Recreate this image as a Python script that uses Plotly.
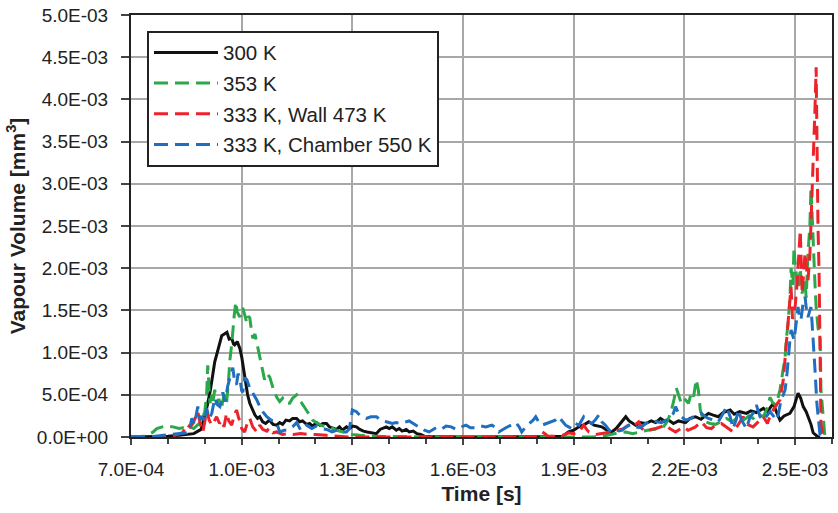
import plotly.graph_objects as go

# time in microseconds, vapour volume in units of 1e-4 mm^3
s300 = [(700,0),(760,0.05),(800,0.1),(830,0.2),(850,0.3),(870,0.4),(890,0.9),(905,3.4),(915,5.5),(927,8.9),
        (935,10.2),(946,12.0),(953,12.2),(960,12.4),(966,11.6),(973,11.7),(978,11.0),(981,10.9),(988,11.3),
        (995,10.5),(1000,9.5),(1005,8.2),(1010,6.8),(1016,5.0),(1022,4.0),(1030,3.2),(1036,2.6),(1043,2.2),
        (1049,2.4),(1057,1.8),(1065,1.6),(1075,2.0),(1085,1.5),(1095,1.4),(1103,1.7),(1111,1.5),(1120,2.0),
        (1130,1.9),(1138,2.2),(1149,2.2),(1157,1.8),(1165,1.9),(1176,1.5),(1184,1.6),(1192,1.3),(1203,1.7),
        (1212,1.4),(1220,1.6),(1230,1.6),(1238,1.2),(1248,1.0),(1257,0.9),(1265,1.2),(1273,0.8),(1284,1.2),
        (1292,1.0),(1300,1.3),(1311,1.2),(1320,0.9),(1330,0.7),(1340,0.6),(1354,0.5),(1365,0.4),(1375,0.9),
        (1392,1.2),(1400,1.0),(1408,1.2),(1419,0.8),(1427,1.0),(1435,0.7),(1446,0.9),(1454,0.6),(1465,0.7),
        (1475,0.4),(1485,0.3),(1495,0.1),(1510,0.05),(1600,0.0),(1700,0.0),(1820,0.0),(1850,0.05),(1870,0.1),
        (1886,0.6),(1900,0.8),(1914,1.2),(1930,1.5),(1941,1.8),(1955,1.4),(1976,1.2),(1990,0.8),(2003,0.6),
        (2015,1.0),(2030,1.8),(2041,2.4),(2050,1.9),(2068,1.4),(2080,1.7),(2095,1.6),(2110,1.9),(2122,1.7),
        (2135,2.2),(2149,1.8),(2157,2.0),(2170,1.6),(2184,1.9),(2203,1.7),(2215,2.2),(2230,2.4),(2245,2.1),
        (2265,2.8),(2278,2.6),(2292,2.4),(2305,2.9),(2324,3.2),(2335,2.7),(2350,3.0),(2368,2.8),(2380,3.1),
        (2395,2.9),(2414,3.4),(2425,3.0),(2441,4.0),(2449,3.0),(2459,2.0),(2470,2.5),(2486,2.8),(2497,3.6),
        (2508,5.2),(2515,4.6),(2522,3.6),(2530,3.0),(2535,2.4),(2543,1.5),(2549,0.5),(2557,0.2),(2562,0.0),(2568,0.0)]

s353 = [(700,0),(740,0.1),(760,0.6),(770,1.0),(785,1.2),(800,1.3),(814,1.2),(830,1.0),(841,1.1),(851,0.9),
        (860,1.2),(870,1.0),(880,1.4),(890,1.8),(900,3.0),(905,5.0),(908,8.5),(912,6.0),(914,4.0),(919,5.0),
        (922,4.2),(927,5.6),(932,3.8),(938,4.5),(946,3.6),(952,5.0),(959,4.0),(964,6.5),(968,9.1),(973,11.0),
        (976,12.7),(980,14.5),(984,16.0),(988,14.8),(995,14.2),(1000,15.0),(1003,15.3),(1008,14.5),(1014,13.5),
        (1018,14.3),(1022,14.1),(1026,12.8),(1030,11.7),(1036,12.2),(1041,11.1),(1047,10.0),(1054,8.3),
        (1058,7.5),(1062,6.8),(1068,7.5),(1076,7.1),(1085,5.8),(1095,4.7),(1103,4.2),(1111,4.6),(1120,4.0),
        (1130,4.0),(1138,4.6),(1149,5.0),(1157,4.4),(1165,3.8),(1175,3.2),(1184,2.6),(1192,2.0),(1203,1.7),
        (1215,1.4),(1230,1.2),(1238,1.2),(1257,0.8),(1273,0.6),(1284,0.5),(1300,0.3),(1320,0.2),(1350,0.1),
        (1400,0.05),(1500,0.0),(1700,0.0),(1950,0.0),(1980,0.1),(2000,0.3),(2022,0.5),(2041,0.6),(2060,0.4),
        (2080,0.6),(2100,0.8),(2120,0.9),(2130,1.2),(2140,1.0),(2150,1.6),(2157,2.2),(2165,3.2),(2172,4.5),
        (2178,5.8),(2184,5.0),(2190,4.2),(2197,4.7),(2203,4.4),(2211,4.0),(2219,5.3),(2225,4.8),(2232,6.8),
        (2238,5.5),(2243,3.2),(2250,2.2),(2257,1.8),(2270,1.6),(2284,1.5),(2300,1.8),(2314,2.2),(2330,1.8),
        (2346,2.4),(2360,2.0),(2375,2.5),(2386,2.2),(2400,2.7),(2414,2.4),(2425,3.5),(2432,4.7),(2440,4.0),
        (2449,3.8),(2459,5.6),(2468,8.3),(2473,9.5),(2476,11.5),(2481,13.5),(2486,16.5),(2489,20.0),(2494,18.0),
        (2497,22.5),(2500,20.5),(2503,19.0),(2508,17.5),(2514,20.0),(2519,17.0),(2527,18.6),(2530,16.5),
        (2535,21.8),(2540,25.0),(2543,29.6),(2546,26.0),(2549,23.3),(2554,18.0),(2557,15.4),(2562,13.0),
        (2568,11.5),(2570,5.6),(2576,2.5),(2581,0.0)]

s333_wall = [(700,0),(780,0.05),(820,0.2),(840,0.5),(851,1.5),(860,1.2),(868,1.6),(875,2.5),(881,3.0),(888,1.5),
        (895,0.6),(900,1.8),(905,3.2),(912,2.0),(919,1.4),(925,1.8),(932,2.4),(940,1.6),(946,2.0),(952,1.2),
        (959,2.8),(965,1.9),(973,1.4),(980,2.6),(986,3.2),(992,2.2),(995,2.0),(1000,1.0),(1008,0.6),(1015,1.6),
        (1022,2.2),(1030,1.2),(1041,0.6),(1049,1.4),(1057,0.9),(1068,0.7),(1076,1.1),(1085,0.5),(1095,0.6),
        (1110,0.3),(1125,0.4),(1140,0.3),(1160,0.4),(1180,0.3),(1200,0.3),(1230,0.2),(1260,0.1),(1290,0.0),
        (1500,0.0),(1800,0.0),(1808,0.3),(1814,0.6),(1822,0.4),(1830,0.1),(1850,0.1),(1870,0.2),(1886,0.5),
        (1900,0.4),(1914,0.6),(1927,1.4),(1935,0.9),(1941,0.6),(1960,0.3),(1976,0.4),(1990,0.5),(2003,0.6),
        (2020,0.8),(2035,1.0),(2049,1.4),(2060,1.2),(2076,1.8),(2085,1.0),(2095,0.6),(2110,0.9),(2122,1.0),
        (2135,1.2),(2149,1.4),(2160,1.0),(2176,0.6),(2190,1.0),(2197,1.2),(2210,0.8),(2230,1.2),(2246,1.8),
        (2260,1.1),(2273,1.0),(2284,1.4),(2300,1.6),(2314,1.2),(2332,0.6),(2345,1.4),(2359,2.4),(2370,1.5),
        (2386,1.2),(2400,1.8),(2414,2.4),(2425,1.6),(2435,2.8),(2449,3.8),(2459,4.4),(2468,6.8),(2476,10.7),
        (2481,13.5),(2486,16.5),(2489,17.8),(2493,14.0),(2500,15.4),(2505,18.0),(2510,21.0),(2514,24.5),
        (2519,17.0),(2524,19.5),(2527,21.8),(2531,20.0),(2535,18.6),(2540,21.5),(2543,24.9),(2546,28.0),
        (2549,31.3),(2552,36.0),(2554,39.1),(2557,43.8),(2559,31.3),(2562,25.0),(2565,19.4),(2568,7.6),
        (2570,1.7),(2576,0.0)]

s333_chamber = [(700,0),(760,0.05),(805,0.3),(830,0.4),(851,0.5),(860,1.2),(865,2.2),(872,1.5),(881,3.6),(888,2.0),
        (892,2.5),(900,1.8),(905,3.4),(912,2.2),(919,2.8),(927,4.6),(935,3.8),(941,3.6),(949,5.3),(955,4.2),
        (962,6.0),(968,7.0),(976,8.2),(981,6.5),(986,6.2),(990,7.5),(995,7.0),(1000,5.5),(1003,5.3),(1008,7.0),
        (1014,6.8),(1022,5.8),(1030,5.2),(1035,5.0),(1041,4.4),(1049,3.6),(1057,3.0),(1068,2.4),(1080,2.0),
        (1095,1.7),(1103,0.6),(1115,0.8),(1122,0.8),(1138,1.2),(1149,1.7),(1160,0.8),(1176,1.4),(1190,1.0),
        (1203,1.3),(1215,1.0),(1230,0.9),(1245,0.6),(1257,0.8),(1273,0.6),(1284,0.6),(1292,1.0),(1300,3.2),
        (1311,3.0),(1322,2.5),(1338,2.2),(1350,2.4),(1365,2.4),(1380,1.9),(1392,1.8),(1408,1.6),(1419,1.7),
        (1430,1.6),(1446,1.8),(1454,1.9),(1465,1.6),(1481,1.2),(1495,0.8),(1508,0.6),(1520,0.9),(1527,1.1),
        (1540,0.9),(1554,1.3),(1568,1.2),(1581,0.9),(1595,1.2),(1608,1.4),(1620,1.1),(1635,1.1),(1648,1.3),
        (1662,1.2),(1678,1.4),(1690,1.1),(1697,0.6),(1710,1.0),(1716,1.1),(1730,1.4),(1743,1.7),(1752,1.2),
        (1759,0.6),(1770,1.2),(1778,1.5),(1790,2.0),(1797,2.4),(1805,1.8),(1814,1.4),(1828,1.6),(1841,1.8),
        (1850,2.0),(1859,2.4),(1868,1.9),(1878,1.4),(1886,1.2),(1894,1.0),(1905,1.6),(1914,1.4),(1927,2.4),
        (1937,1.9),(1949,1.6),(1958,2.0),(1968,2.6),(1976,1.8),(1986,1.4),(1996,0.8),(2003,0.6),(2015,0.7),
        (2030,0.8),(2045,1.3),(2057,1.5),(2068,1.2),(2081,1.1),(2095,1.6),(2111,2.0),(2125,1.8),(2138,1.7),
        (2150,2.0),(2157,2.1),(2170,2.8),(2176,3.6),(2184,2.8),(2192,2.4),(2203,2.0),(2219,2.2),(2230,2.6),
        (2246,2.8),(2257,2.4),(2265,2.2),(2280,2.0),(2292,1.8),(2305,2.8),(2314,3.6),(2324,2.4),(2332,1.0),
        (2340,2.0),(2346,3.2),(2355,2.0),(2368,1.0),(2378,2.4),(2386,2.8),(2395,3.8),(2405,2.4),(2414,2.0),
        (2425,2.6),(2432,3.0),(2441,2.5),(2449,2.0),(2455,2.8),(2462,4.4),(2468,5.0),(2473,5.6),(2478,7.5),
        (2481,9.5),(2486,11.5),(2489,12.7),(2494,11.8),(2497,11.5),(2503,13.5),(2508,15.4),(2512,14.0),
        (2516,13.9),(2522,16.0),(2527,16.6),(2531,15.0),(2535,14.2),(2540,15.0),(2543,15.4),(2546,13.5),
        (2549,11.8),(2554,7.9),(2559,4.0),(2562,2.8),(2566,1.0),(2568,0.0)]

series_names = ["300 K", "353 K", "333 K, Wall 473 K", "333 K, Chamber 550 K"]
series_colors = ["#111111", "#2BA84A", "#EE2229", "#1F6EBF"]
series_dash = ["solid", "14px,7px", "14px,7px", "14px,7px"]
series_data = [s300, s353, s333_wall, s333_chamber]

x_tickvals = [7.0e-4, 1.0e-3, 1.3e-3, 1.6e-3, 1.9e-3, 2.2e-3, 2.5e-3]
x_ticktext = ["7.0E-04", "1.0E-03", "1.3E-03", "1.6E-03", "1.9E-03", "2.2E-03", "2.5E-03"]
y_tickvals = [0, 5e-4, 1e-3, 1.5e-3, 2e-3, 2.5e-3, 3e-3, 3.5e-3, 4e-3, 4.5e-3, 5e-3]
y_ticktext = ["0.0E+00", "5.0E-04", "1.0E-03", "1.5E-03", "2.0E-03", "2.5E-03",
              "3.0E-03", "3.5E-03", "4.0E-03", "4.5E-03", "5.0E-03"]

FONT = "Liberation Sans, Arial, sans-serif"

fig = go.Figure()
for i, (name, col, dash, data) in enumerate(zip(series_names, series_colors, series_dash, series_data)):
    fig.add_trace(go.Scatter(
        x=[t * 1e-6 for t, v in data],
        y=[v * 1e-4 for t, v in data],
        mode="lines", name=name, legendgroup=f"g{i}",
        line=dict(color=col, width=3, dash=dash),
    ))

fig.update_layout(
    width=838, height=513,
    margin=dict(l=131, r=4, t=15, b=76),
    paper_bgcolor="white", plot_bgcolor="white",
    font=dict(family=FONT, size=19, color="#222"),
    showlegend=True,
    legend=dict(
        x=0.0228, y=0.963, xanchor="left", yanchor="top",
        bgcolor="white", bordercolor="#222", borderwidth=2,
        font=dict(family=FONT, size=20.5, color="#222"),
        tracegroupgap=1, itemwidth=64,
    ),
)
fig.update_xaxes(
    range=[7.0e-4, 2.6e-3], tickmode="array", tickvals=x_tickvals, ticktext=x_ticktext,
    showgrid=True, gridcolor="#A8A8A8", gridwidth=1.5,
    showline=True, linecolor="#222", linewidth=2, mirror=True,
    ticks="outside", ticklen=6, tickwidth=1.5, tickcolor="#444", ticklabelstandoff=8,
    minor=dict(tickmode="linear", tick0=7.0e-4, dtick=1e-4, ticks="outside", ticklen=5,
               tickcolor="#444", showgrid=False),
    title=dict(text="<b>Time [s]</b>", font=dict(family=FONT, size=21, color="#222"), standoff=8),
    zeroline=False,
)
fig.update_yaxes(
    range=[0, 5.0e-3], tickmode="array", tickvals=y_tickvals, ticktext=y_ticktext,
    showgrid=True, gridcolor="#A8A8A8", gridwidth=1.5,
    showline=True, linecolor="#222", linewidth=2, mirror=True,
    ticks="outside", ticklen=8, tickwidth=1.5, tickcolor="#444", ticklabelstandoff=9,
    title=dict(text="<b>Vapour Volume [mm<sup>3</sup>]</b>", font=dict(family=FONT, size=21, color="#222"), standoff=6),
    zeroline=False,
)

fig.write_html("out.html")
